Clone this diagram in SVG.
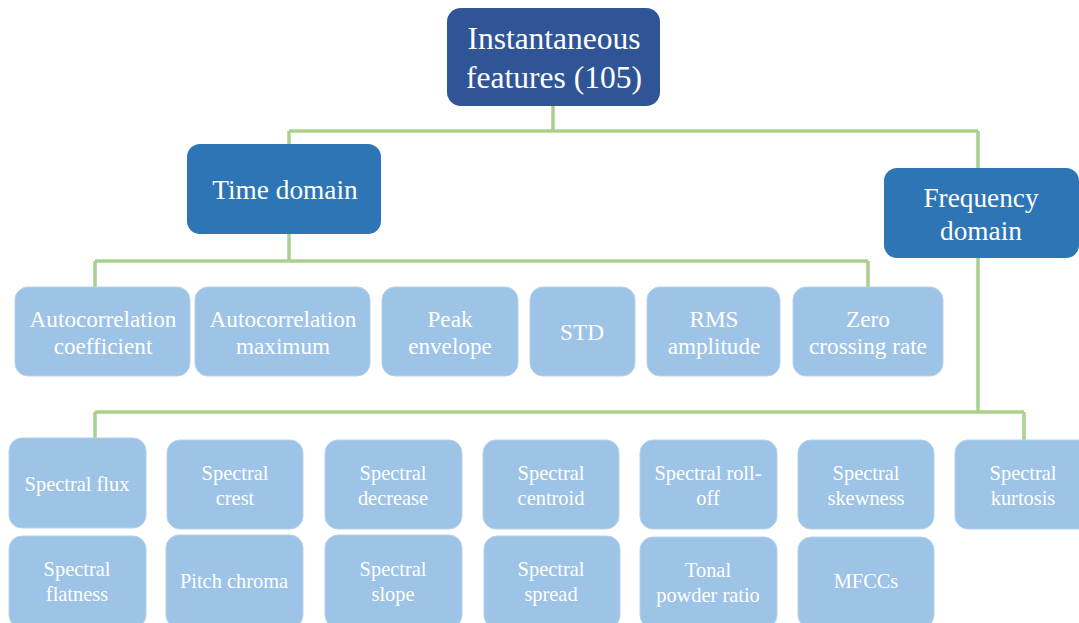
<svg xmlns="http://www.w3.org/2000/svg" width="1079" height="623" viewBox="0 0 1079 623">
<style>
text{font-family:"Liberation Serif","Times New Roman",serif;fill:#fff;text-anchor:middle}
.root{fill:#2F5597}
.dom{fill:#2E75B6}
.leaf{fill:#9DC3E6;stroke:#B4D2EC;stroke-width:1}
.t1{font-size:31.5px}
.t2{font-size:27.3px}
.t3{font-size:23.2px}
.t4{font-size:20.4px}
.conn{fill:none;stroke:#A9D18E;stroke-width:3.5}
</style>
<rect width="1079" height="623" fill="#fff"/>
<g id="connectors">
<path class="conn" d="M553,106V131M289,131H978M289,131V145M978,131V169"/>
<path class="conn" d="M289,234V261M95,261H868M95,261V288M868,261V288"/>
<path class="conn" d="M978,258V412M95,412H1024M95,412V439M1024,412V440"/>
</g>
<g id="root"><rect class="root" x="447" y="8" width="213" height="98" rx="14"/><text class="t1" x="554" y="49">Instantaneous</text><text class="t1" x="554" y="88">features (105)</text></g>
<g id="time"><rect class="dom" x="187" y="144" width="194" height="90" rx="13"/><text class="t2" x="285" y="199">Time domain</text></g>
<g id="freq"><rect class="dom" x="884" y="168" width="195" height="90" rx="13"/><text class="t2" x="981" y="207">Frequency</text><text class="t2" x="981" y="240">domain</text></g>
<g id="acoef"><rect class="leaf" x="15" y="287" width="175" height="89" rx="13"/><text class="t3" x="103" y="327">Autocorrelation</text><text class="t3" x="103" y="354">coefficient</text></g>
<g id="amax"><rect class="leaf" x="195" y="287" width="175" height="89" rx="13"/><text class="t3" x="283" y="327">Autocorrelation</text><text class="t3" x="283" y="354">maximum</text></g>
<g id="peak"><rect class="leaf" x="382" y="287" width="136" height="89" rx="13"/><text class="t3" x="450" y="327">Peak</text><text class="t3" x="450" y="354">envelope</text></g>
<g id="std"><rect class="leaf" x="530" y="287" width="105" height="89" rx="13"/><text class="t3" x="582" y="340">STD</text></g>
<g id="rms"><rect class="leaf" x="647" y="287" width="133" height="89" rx="13"/><text class="t3" x="714" y="327">RMS</text><text class="t3" x="714" y="354">amplitude</text></g>
<g id="zcr"><rect class="leaf" x="793" y="287" width="150" height="89" rx="13"/><text class="t3" x="868" y="327">Zero</text><text class="t3" x="868" y="354">crossing rate</text></g>
<g id="sflux"><rect class="leaf" x="9" y="438" width="137" height="90" rx="13"/><text class="t4" x="77" y="491">Spectral flux</text></g>
<g id="screst"><rect class="leaf" x="167" y="440" width="136" height="89" rx="13"/><text class="t4" x="235" y="480">Spectral</text><text class="t4" x="235" y="505">crest</text></g>
<g id="sdec"><rect class="leaf" x="325" y="440" width="137" height="89" rx="13"/><text class="t4" x="393" y="480">Spectral</text><text class="t4" x="393" y="505">decrease</text></g>
<g id="scent"><rect class="leaf" x="483" y="440" width="136" height="89" rx="13"/><text class="t4" x="551" y="480">Spectral</text><text class="t4" x="551" y="505">centroid</text></g>
<g id="sroll"><rect class="leaf" x="640" y="440" width="137" height="89" rx="13"/><text class="t4" x="708" y="480">Spectral roll-</text><text class="t4" x="708" y="505">off</text></g>
<g id="sskew"><rect class="leaf" x="798" y="440" width="136" height="89" rx="13"/><text class="t4" x="866" y="480">Spectral</text><text class="t4" x="866" y="505">skewness</text></g>
<g id="skurt"><rect class="leaf" x="955" y="440" width="137" height="89" rx="13"/><text class="t4" x="1023" y="480">Spectral</text><text class="t4" x="1023" y="505">kurtosis</text></g>
<g id="sflat"><rect class="leaf" x="9" y="536" width="137" height="92" rx="13"/><text class="t4" x="77" y="576">Spectral</text><text class="t4" x="77" y="601">flatness</text></g>
<g id="pitch"><rect class="leaf" x="166" y="535" width="137" height="93" rx="13"/><text class="t4" x="234" y="588">Pitch chroma</text></g>
<g id="sslope"><rect class="leaf" x="325" y="535" width="137" height="93" rx="13"/><text class="t4" x="393" y="576">Spectral</text><text class="t4" x="393" y="601">slope</text></g>
<g id="sspread"><rect class="leaf" x="484" y="536" width="136" height="92" rx="13"/><text class="t4" x="551" y="576">Spectral</text><text class="t4" x="551" y="601">spread</text></g>
<g id="tonal"><rect class="leaf" x="640" y="537" width="137" height="91" rx="13"/><text class="t4" x="708" y="577">Tonal</text><text class="t4" x="708" y="602">powder ratio</text></g>
<g id="mfcc"><rect class="leaf" x="798" y="537" width="136" height="91" rx="13"/><text class="t4" x="866" y="588">MFCCs</text></g>
</svg>
